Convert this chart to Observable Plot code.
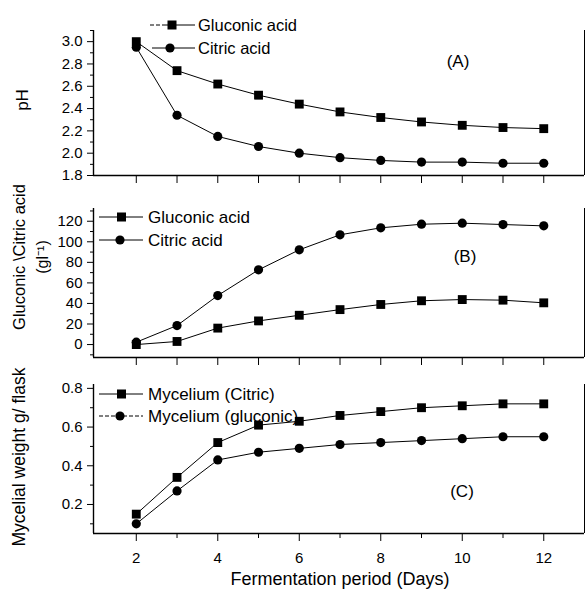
<!DOCTYPE html>
<html>
<head>
<meta charset="utf-8">
<script src="https://cdn.jsdelivr.net/npm/d3@7"></script>
<script src="https://cdn.jsdelivr.net/npm/@observablehq/plot@0.6"></script>
<style>
  html, body { margin: 0; padding: 0; background: #fff; }
  #wrap { position: relative; width: 585px; height: 591px; overflow: hidden; background: #fff;
          font-family: "Liberation Sans", Arial, sans-serif; }
  .panel { position: absolute; left: 0; }
  #overlay { position: absolute; left: 0; top: 0; pointer-events: none; }
</style>
</head>
<body>
<div id="wrap">
  <div id="pA" class="panel" style="top:0px"></div>
  <div id="pB" class="panel" style="top:190px"></div>
  <div id="pC" class="panel" style="top:370px"></div>
  <svg id="overlay" width="585" height="591" font-family="Liberation Sans, Arial, sans-serif" fill="black">
    <!-- axis titles -->
    <text transform="translate(28,100) rotate(-90)" text-anchor="middle" font-size="17">pH</text>
    <text transform="translate(25,257) rotate(-90)" text-anchor="middle" font-size="16.5">Gluconic \Citric acid</text>
    <text transform="translate(48,257) rotate(-90)" text-anchor="middle" font-size="16">(gl⁻¹)</text>
    <text transform="translate(25,457) rotate(-90)" text-anchor="middle" font-size="17.5">Mycelial weight g/ flask</text>
    <text x="340" y="585" text-anchor="middle" font-size="18">Fermentation period (Days)</text>
    <!-- panel letters -->
    <text x="458" y="67" text-anchor="middle" font-size="17">(A)</text>
    <text x="465" y="262" text-anchor="middle" font-size="17">(B)</text>
    <text x="462" y="497" text-anchor="middle" font-size="17">(C)</text>
    <!-- legend A -->
    <line x1="150" y1="25" x2="166" y2="25" stroke="black" stroke-width="1" stroke-dasharray="4,2"/>
    <line x1="166" y1="25" x2="195" y2="25" stroke="black" stroke-width="1"/>
    <rect x="167.5" y="20.5" width="9" height="9"/>
    <text x="198" y="31" font-size="16.5">Gluconic acid</text>
    <line x1="152" y1="48" x2="195" y2="48" stroke="black" stroke-width="1"/>
    <circle cx="170" cy="48" r="4.6"/>
    <text x="198" y="53.5" font-size="16.5">Citric acid</text>
    <!-- legend B -->
    <line x1="99" y1="217" x2="143" y2="217" stroke="black" stroke-width="1"/>
    <rect x="117" y="212.5" width="9" height="9"/>
    <text x="148" y="223" font-size="17">Gluconic acid</text>
    <line x1="99" y1="240" x2="143" y2="240" stroke="black" stroke-width="1"/>
    <circle cx="120" cy="240" r="4.6"/>
    <text x="148" y="245.5" font-size="17">Citric acid</text>
    <!-- legend C -->
    <line x1="99" y1="394" x2="143" y2="394" stroke="black" stroke-width="1"/>
    <rect x="117" y="389.5" width="9" height="9"/>
    <text x="148" y="399.5" font-size="17">Mycelium (Citric)</text>
    <line x1="99" y1="416" x2="143" y2="416" stroke="black" stroke-width="1" stroke-dasharray="4,2"/>
    <circle cx="120" cy="416" r="4.6"/>
    <text x="148" y="421.5" font-size="17">Mycelium (gluconic)</text>
  </svg>
</div>
<script>
// ---- data ----
const days = [2, 3, 4, 5, 6, 7, 8, 9, 10, 11, 12];
const phGluconic = [3.00, 2.74, 2.62, 2.52, 2.44, 2.37, 2.32, 2.28, 2.25, 2.23, 2.22];
const phCitric   = [2.95, 2.34, 2.15, 2.06, 2.00, 1.96, 1.935, 1.92, 1.92, 1.91, 1.91];
const acidGluconic = [0, 3, 16, 23, 28.5, 34, 39, 42.6, 43.8, 43.2, 40.6];
const acidCitric   = [2.3, 18.5, 47.7, 72.7, 92.2, 106.8, 113.6, 117.1, 118.1, 116.8, 115.5];
const myceliumCitric   = [0.15, 0.34, 0.52, 0.61, 0.63, 0.66, 0.68, 0.70, 0.71, 0.72, 0.72];
const myceliumGluconic = [0.10, 0.27, 0.43, 0.47, 0.49, 0.51, 0.52, 0.53, 0.54, 0.55, 0.55];

// tick values
const xMajorTicks = [2, 4, 6, 8, 10, 12];
const xMinorTicks = [3, 5, 7, 9, 11];
const phTicks = [1.8, 2.0, 2.2, 2.4, 2.6, 2.8, 3.0];
const phMinor = [1.9, 2.1, 2.3, 2.5, 2.7, 2.9, 3.1];
const acidTicks = [0, 20, 40, 60, 80, 100, 120];
const acidMinor = [-10, 10, 30, 50, 70, 90, 110, 130];
const mycTicks = [0.2, 0.4, 0.6, 0.8];
const mycMinor = [0.1, 0.3, 0.5, 0.7];

const xDomain = [0.95, 13];
const yDomA = [1.8, 3.1];
const yDomB = [-12.6, 132.4];
const yDomC = [0.05, 0.82];

const font = '"Liberation Sans", Arial, sans-serif';
const blank = () => "";

function series(vals) { return days.map((d, i) => ({x: d, y: vals[i]})); }

function panel({height, marginTop, marginBottom, yDomain, yTicks, yMinor, yFormat, s1, s2, sym1, sym2, xLabels}) {
  const marks = [
    Plot.ruleX([xDomain[0]], {stroke: "black", strokeWidth: 1.4}),
    Plot.ruleX([xDomain[1]], {stroke: "black", strokeWidth: 1}),
    Plot.ruleY([yDomain[0]], {stroke: "black", strokeWidth: 1.4}),
    Plot.axisY(yTicks, {tickSize: 6, tickPadding: 5, tickFormat: yFormat, label: null, fontSize: 15}),
    Plot.axisY(yMinor.filter(v => v >= yDomain[0] && v <= yDomain[1]), {tickSize: 3, tickFormat: blank, label: null}),
  ];
  if (xLabels) {
    marks.push(Plot.axisX(xMajorTicks, {tickSize: 8, tickPadding: 11, tickFormat: d3.format("d"), label: null, fontSize: 15}));
    marks.push(Plot.axisX(xMinorTicks, {tickSize: 5, tickFormat: blank, label: null}));
  } else {
    marks.push(Plot.axisX(days, {tickSize: 8, tickFormat: blank, label: null}));
  }
  marks.push(
    Plot.line(series(s1), {x: "x", y: "y", stroke: "black", strokeWidth: 1}),
    Plot.line(series(s2), {x: "x", y: "y", stroke: "black", strokeWidth: 1}),
    Plot.dot(series(s1), {x: "x", y: "y", symbol: sym1, r: sym1 === "square" ? 5 : 4.6, fill: "black", stroke: "none"}),
    Plot.dot(series(s2), {x: "x", y: "y", symbol: sym2, r: sym2 === "square" ? 5 : 4.6, fill: "black", stroke: "none"})
  );
  return Plot.plot({
    width: 585, height, marginLeft: 93, marginRight: 1, marginTop, marginBottom,
    style: {fontFamily: font, fontSize: "15px", color: "black", background: "white", overflow: "visible"},
    x: {domain: xDomain},
    y: {domain: yDomain},
    marks
  });
}

document.getElementById("pA").append(panel({
  height: 190, marginTop: 30, marginBottom: 15, yDomain: yDomA,
  yTicks: phTicks, yMinor: phMinor, yFormat: d3.format(".1f"),
  s1: phGluconic, s2: phCitric, sym1: "square", sym2: "circle", xLabels: false
}));
document.getElementById("pB").append(panel({
  height: 180, marginTop: 18, marginBottom: 13, yDomain: yDomB,
  yTicks: acidTicks, yMinor: acidMinor, yFormat: d3.format("d"),
  s1: acidGluconic, s2: acidCitric, sym1: "square", sym2: "circle", xLabels: false
}));
document.getElementById("pC").append(panel({
  height: 221, marginTop: 14, marginBottom: 58, yDomain: yDomC,
  yTicks: mycTicks, yMinor: mycMinor, yFormat: d3.format(".1f"),
  s1: myceliumCitric, s2: myceliumGluconic, sym1: "square", sym2: "circle", xLabels: true
}));
</script>
</body>
</html>
